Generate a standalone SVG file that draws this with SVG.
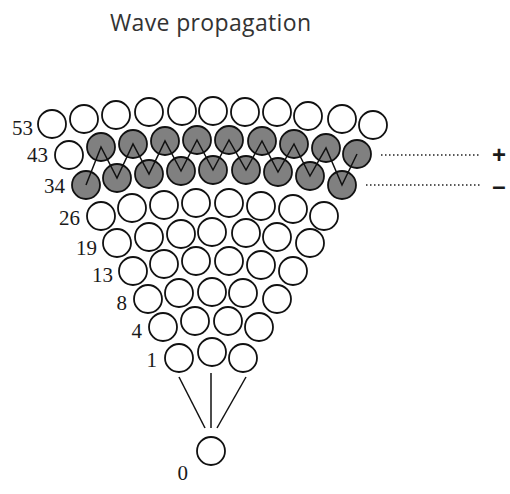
<svg xmlns="http://www.w3.org/2000/svg" width="510" height="494" viewBox="0 0 510 494">
<style>
.w{fill:#fff;stroke:#111;stroke-width:1.8}
.s{fill:#808080;stroke:#111;stroke-width:1.8}
.lbl{font-family:"Liberation Serif","Times New Roman",serif;font-size:21px;fill:#1a1a1a;text-anchor:end}
.ttl{font-family:"Open Sans","DejaVu Sans",sans-serif;font-size:23px;fill:#333}
.ln{stroke:#111;stroke-width:1.5;fill:none}
.dot{stroke:#222;stroke-width:1.4;stroke-dasharray:1.5 2.5;fill:none}
.sg{font-family:"Liberation Sans",Arial,sans-serif;font-size:24px;font-weight:bold;fill:#1a1a1a;text-anchor:middle}
</style>
<rect width="510" height="494" fill="#fff"/>
<text class="ttl" x="110" y="31" textLength="201" lengthAdjust="spacing">Wave propagation</text>
<g id="row53">
<g id="n53-1"><circle class="w" cx="52" cy="124" r="14"/></g>
<g id="n53-2"><circle class="w" cx="84" cy="119" r="14"/></g>
<g id="n53-3"><circle class="w" cx="116" cy="115" r="14"/></g>
<g id="n53-4"><circle class="w" cx="149" cy="112" r="14"/></g>
<g id="n53-5"><circle class="w" cx="182" cy="111" r="14"/></g>
<g id="n53-6"><circle class="w" cx="213" cy="111" r="14"/></g>
<g id="n53-7"><circle class="w" cx="245" cy="112" r="14"/></g>
<g id="n53-8"><circle class="w" cx="277" cy="112" r="14"/></g>
<g id="n53-9"><circle class="w" cx="308" cy="116" r="14"/></g>
<g id="n53-10"><circle class="w" cx="342" cy="119" r="14"/></g>
<g id="n53-11"><circle class="w" cx="373" cy="125" r="14"/></g>
</g>
<g id="row43">
<g id="n43-1"><circle class="w" cx="69" cy="155" r="14"/></g>
<g id="n43-2"><circle class="s" cx="101" cy="147" r="14"/></g>
<g id="n43-3"><circle class="s" cx="133" cy="144" r="14"/></g>
<g id="n43-4"><circle class="s" cx="165" cy="141" r="14"/></g>
<g id="n43-5"><circle class="s" cx="197" cy="140" r="14"/></g>
<g id="n43-6"><circle class="s" cx="229" cy="140" r="14"/></g>
<g id="n43-7"><circle class="s" cx="262" cy="141" r="14"/></g>
<g id="n43-8"><circle class="s" cx="294" cy="144" r="14"/></g>
<g id="n43-9"><circle class="s" cx="326" cy="148" r="14"/></g>
<g id="n43-10"><circle class="s" cx="357" cy="154" r="14"/></g>
</g>
<g id="row34">
<g id="n34-1"><circle class="s" cx="86" cy="185" r="14"/></g>
<g id="n34-2"><circle class="s" cx="117" cy="178" r="14"/></g>
<g id="n34-3"><circle class="s" cx="149" cy="174" r="14"/></g>
<g id="n34-4"><circle class="s" cx="181" cy="171" r="14"/></g>
<g id="n34-5"><circle class="s" cx="213" cy="170" r="14"/></g>
<g id="n34-6"><circle class="s" cx="246" cy="170" r="14"/></g>
<g id="n34-7"><circle class="s" cx="278" cy="172" r="14"/></g>
<g id="n34-8"><circle class="s" cx="310" cy="176" r="14"/></g>
<g id="n34-9"><circle class="s" cx="342" cy="185" r="14"/></g>
</g>
<g id="row26">
<g id="n26-1"><circle class="w" cx="101" cy="216" r="14"/></g>
<g id="n26-2"><circle class="w" cx="132" cy="208" r="14"/></g>
<g id="n26-3"><circle class="w" cx="164" cy="205" r="14"/></g>
<g id="n26-4"><circle class="w" cx="196" cy="203" r="14"/></g>
<g id="n26-5"><circle class="w" cx="229" cy="203" r="14"/></g>
<g id="n26-6"><circle class="w" cx="261" cy="206" r="14"/></g>
<g id="n26-7"><circle class="w" cx="293" cy="209" r="14"/></g>
<g id="n26-8"><circle class="w" cx="324" cy="216" r="14"/></g>
</g>
<g id="row19">
<g id="n19-1"><circle class="w" cx="117" cy="243" r="14"/></g>
<g id="n19-2"><circle class="w" cx="149" cy="237" r="14"/></g>
<g id="n19-3"><circle class="w" cx="181" cy="234" r="14"/></g>
<g id="n19-4"><circle class="w" cx="212" cy="232" r="14"/></g>
<g id="n19-5"><circle class="w" cx="246" cy="233" r="14"/></g>
<g id="n19-6"><circle class="w" cx="277" cy="237" r="14"/></g>
<g id="n19-7"><circle class="w" cx="310" cy="243" r="14"/></g>
</g>
<g id="row13">
<g id="n13-1"><circle class="w" cx="133" cy="271" r="14"/></g>
<g id="n13-2"><circle class="w" cx="164" cy="264" r="14"/></g>
<g id="n13-3"><circle class="w" cx="196" cy="261" r="14"/></g>
<g id="n13-4"><circle class="w" cx="229" cy="261" r="14"/></g>
<g id="n13-5"><circle class="w" cx="261" cy="265" r="14"/></g>
<g id="n13-6"><circle class="w" cx="293" cy="271" r="14"/></g>
</g>
<g id="row8">
<g id="n8-1"><circle class="w" cx="148" cy="299" r="14"/></g>
<g id="n8-2"><circle class="w" cx="179" cy="293" r="14"/></g>
<g id="n8-3"><circle class="w" cx="212" cy="292" r="14"/></g>
<g id="n8-4"><circle class="w" cx="243" cy="293" r="14"/></g>
<g id="n8-5"><circle class="w" cx="277" cy="299" r="14"/></g>
</g>
<g id="row4">
<g id="n4-1"><circle class="w" cx="163" cy="327" r="14"/></g>
<g id="n4-2"><circle class="w" cx="195" cy="321" r="14"/></g>
<g id="n4-3"><circle class="w" cx="228" cy="321" r="14"/></g>
<g id="n4-4"><circle class="w" cx="259" cy="327" r="14"/></g>
</g>
<g id="row1">
<g id="n1-1"><circle class="w" cx="179" cy="358" r="14"/></g>
<g id="n1-2"><circle class="w" cx="212" cy="352" r="14"/></g>
<g id="n1-3"><circle class="w" cx="243" cy="358" r="14"/></g>
</g>
<g id="n0"><circle class="w" cx="211" cy="451" r="14"/></g>
<g id="connectors">
<line class="ln" x1="179" y1="377" x2="205" y2="428"/>
<line class="ln" x1="211" y1="373" x2="211" y2="428"/>
<line class="ln" x1="246" y1="377" x2="217" y2="428"/>
<polyline class="ln" points="86,185 101,147 117,178 133,144 149,174 165,141 181,171 197,140 213,170 229,140 246,170 262,141 278,172 294,144 310,176 326,148 342,185 357,154"/>
<line class="dot" x1="381" y1="155" x2="479" y2="155"/>
<line class="dot" x1="366" y1="185" x2="481" y2="185"/>
</g>
<g id="labels">
<text class="lbl" x="33" y="135">53</text>
<text class="lbl" x="48" y="162">43</text>
<text class="lbl" x="65" y="193">34</text>
<text class="lbl" x="80" y="225">26</text>
<text class="lbl" x="97" y="255">19</text>
<text class="lbl" x="113" y="282">13</text>
<text class="lbl" x="127" y="310">8</text>
<text class="lbl" x="142" y="338">4</text>
<text class="lbl" x="157" y="367">1</text>
<text class="lbl" x="188" y="480">0</text>
<text class="sg" x="499" y="163">+</text>
<text class="sg" x="499" y="194">–</text>
</g>
</svg>
